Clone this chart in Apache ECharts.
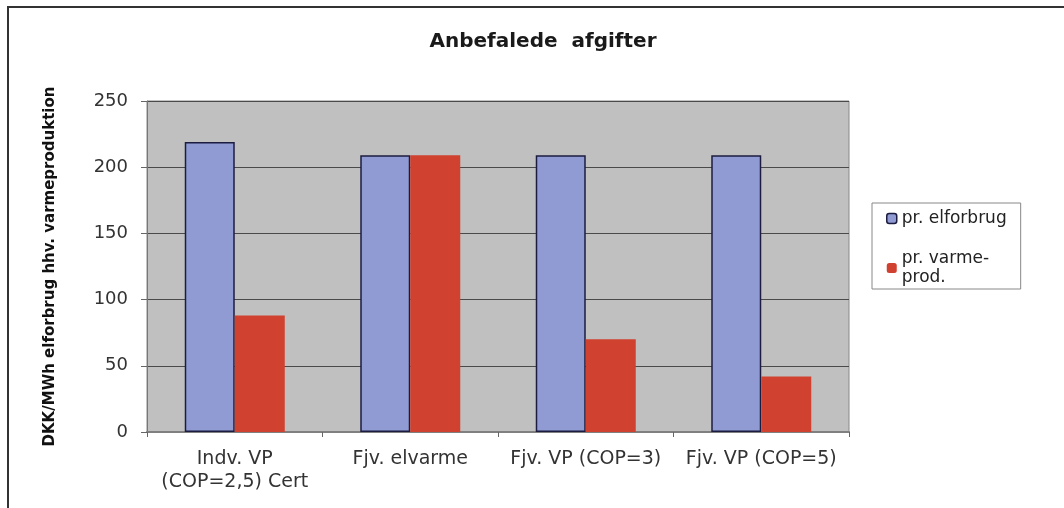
<!DOCTYPE html>
<html>
<head>
<meta charset="utf-8">
<script src="https://cdn.jsdelivr.net/npm/echarts@6/dist/echarts.min.js"></script>
<style>
  html, body { margin: 0; padding: 0; background: #fff; }
  #chart { width: 1064px; height: 508px; }
</style>
</head>
<body>
<div id="chart"></div>
<script>
const categories = ['Indv. VP\n(COP=2,5) Cert', 'Fjv. elvarme', 'Fjv. VP (COP=3)', 'Fjv. VP (COP=5)'];
const elforbrug = [219, 209, 209, 209];
const varmeprod = [88, 209, 70, 42];
const yTicks = [0, 50, 100, 150, 200, 250];

const chart = echarts.init(document.getElementById('chart'));

chart.setOption({
	backgroundColor: '#fff',
	textStyle: { fontFamily: 'DejaVu Sans, sans-serif' },
	title: {
		text: 'Anbefalede  afgifter',
		left: 538,
		textAlign: 'center',
		top: 27,
		textStyle: { fontSize: 20, fontWeight: 'bold', color: '#1a1a1a' },
	},
	graphic: [
		{
			type: 'rect',
			shape: { x: 8, y: 7, width: 1100, height: 600 },
			style: { fill: 'none', stroke: '#333', lineWidth: 2 },
			silent: true,
		},
	],
	legend: {
		orient: 'vertical',
		left: 872,
		top: 203,
		width: 150,
		padding: [6, 14, 2, 14],
		borderColor: '#888',
		borderWidth: 1,
		itemWidth: 10,
		itemHeight: 10,
		itemGap: 21,
		textStyle: { fontSize: 17, color: '#222', lineHeight: 19 },
		formatter: (name) => name.replace('varme-prod.', 'varme-\nprod.'),
		data: [
			{ name: 'pr. elforbrug', itemStyle: { borderColor: '#1c1c40', borderWidth: 1.5 } },
			{ name: 'pr. varme-prod.', itemStyle: { borderWidth: 0 } },
		],
	},
	grid: { left: 147, right: 215, top: 101, bottom: 76, show: true, backgroundColor: '#c0c0c0', borderColor: '#888', borderWidth: 1 },
	xAxis: {
		type: 'category',
		data: categories,
		axisLine: { lineStyle: { color: '#808080', width: 2 } },
		axisTick: { show: true, interval: 0, length: 5, lineStyle: { color: '#666' } },
		axisLabel: { interval: 0, hideOverlap: false, fontSize: 19, color: '#333', margin: 16, lineHeight: 23 },
	},
	yAxis: {
		type: 'value',
		min: 0,
		max: 250,
		interval: 50,
		name: 'DKK/MWh elforbrug hhv. varmeproduktion',
		nameLocation: 'middle',
		nameRotate: 90,
		nameGap: 89,
		nameTextStyle: { fontSize: 15, fontWeight: 'bold', color: '#111' },
		axisLine: { show: true, lineStyle: { color: '#777' } },
		axisTick: { show: true, length: 6, lineStyle: { color: '#666' } },
		axisLabel: {
			fontSize: 18,
			color: '#333',
			margin: 19,
			formatter: (v) => (yTicks.includes(v) ? String(v) : ''),
		},
		splitLine: { lineStyle: { color: '#4a4a4a', width: 1 } },
	},
	series: [
		{
			name: 'pr. elforbrug',
			type: 'bar',
			data: elforbrug,
			barWidth: 50,
			barGap: '0%',
			itemStyle: { color: '#8f9bd2', borderColor: '#1c1c40', borderWidth: 1.5 },
		},
		{
			name: 'pr. varme-prod.',
			type: 'bar',
			data: varmeprod,
			barWidth: 50,
			barGap: '0%',
			itemStyle: { color: '#d0412f' },
		},
	],
});
</script>
</body>
</html>
